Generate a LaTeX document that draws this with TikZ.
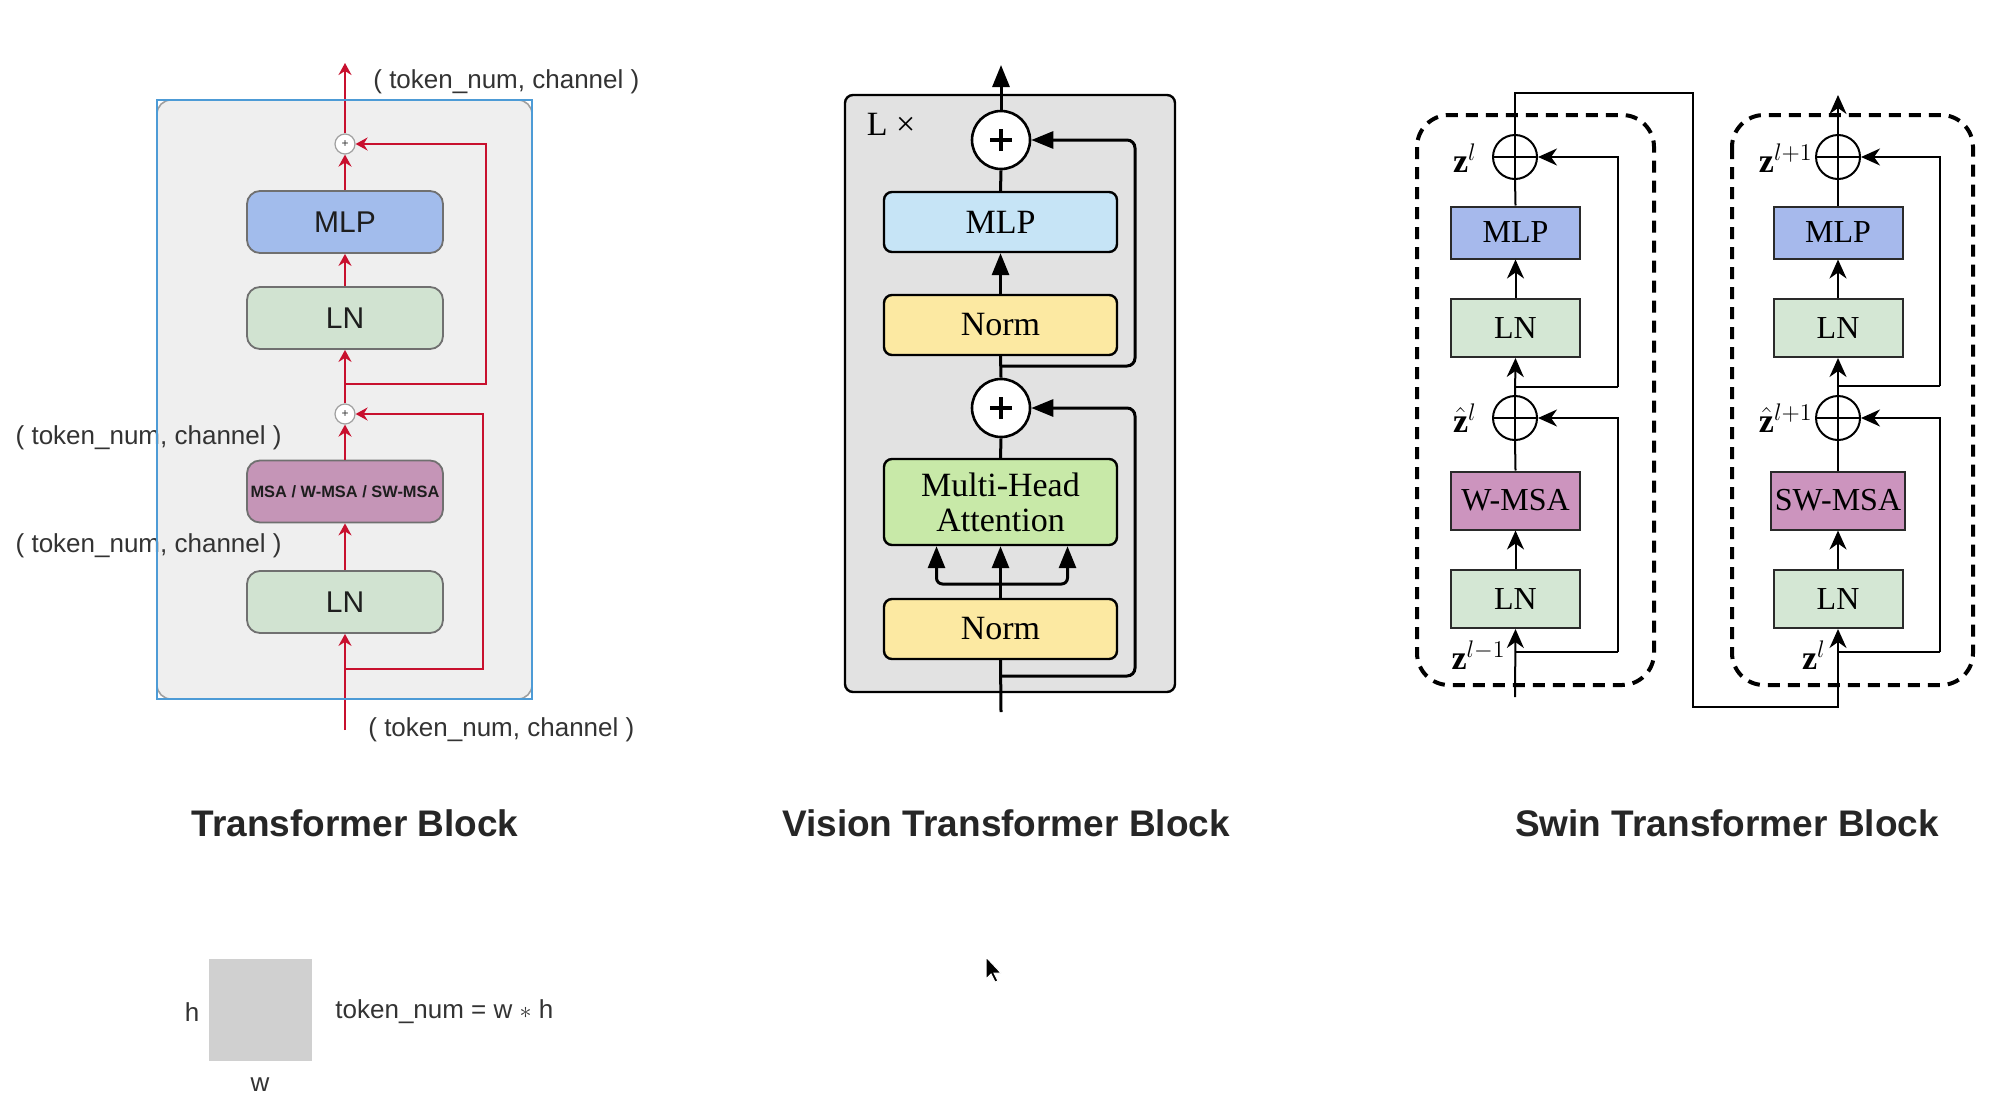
\documentclass[tikz,border=0pt]{standalone}
\usepackage{fontspec}
\setmainfont{Liberation Serif}
\newfontfamily\sansf{Liberation Sans}
\usetikzlibrary{arrows.meta}
\definecolor{tred}{HTML}{C8102E}
\definecolor{tgray}{HTML}{EFEFEF}
\definecolor{tgrayb}{HTML}{A0A0A0}
\definecolor{tblue}{HTML}{4D9BD6}
\definecolor{tboxb}{HTML}{707070}
\definecolor{tmlp}{HTML}{A2BCEC}
\definecolor{tln}{HTML}{D1E3D1}
\definecolor{tmsa}{HTML}{C595B7}
\definecolor{txtdark}{HTML}{333333}
\definecolor{boxtxt}{HTML}{1E1E1E}
\definecolor{titlegray}{HTML}{262626}
\definecolor{vgray}{HTML}{E2E2E2}
\definecolor{vmlpc}{HTML}{C6E4F6}
\definecolor{vnormc}{HTML}{FCE9A2}
\definecolor{vmhac}{HTML}{C8E9A8}
\definecolor{sborder}{HTML}{2A2A2A}
\definecolor{smlpc}{HTML}{A6B9EC}
\definecolor{slnc}{HTML}{D4E7D4}
\definecolor{smsac}{HTML}{CC94BE}
\definecolor{sqgray}{HTML}{D0D0D0}
\begin{document}
\begin{tikzpicture}[x=0.5pt,y=-0.5pt,
  tbox/.style={draw=tboxb, line width=0.9pt, rounded corners=6.5pt, minimum width=98pt, minimum height=31pt, inner sep=0pt, font=\sansf\fontsize{15}{17}\selectfont, text=boxtxt},
  redarrow/.style={draw=tred, line width=1pt, -{Stealth[length=6pt,width=6.5pt,inset=2pt]}},
  redline/.style={draw=tred, line width=1pt},
  tplus/.style={circle, draw=tgrayb, fill=white, minimum size=10pt, inner sep=0pt, line width=0.6pt, font=\sansf\fontsize{6}{6}\selectfont, text=txtdark},
  dimlabel/.style={font=\sansf\fontsize{13}{15}\selectfont, text=txtdark, inner sep=0pt},
  vbox/.style={draw=black, line width=1.2pt, rounded corners=4pt, minimum width=116.5pt, minimum height=30pt, inner sep=0pt, font=\fontsize{17}{17.5}\selectfont, align=center},
  varrow/.style={line width=1.5pt, -{Triangle[length=11pt,width=8.5pt]}},
  vline/.style={line width=1.5pt},
  vplus/.style={circle, draw=black, line width=1.3pt, fill=white, minimum size=29pt, inner sep=0pt},
  sbox/.style={draw=sborder, line width=1pt, minimum width=64.5pt, minimum height=29pt, inner sep=0pt, font=\fontsize{16}{18}\selectfont},
  sarrow/.style={line width=1pt, -{Stealth[length=9.5pt,width=8.5pt,inset=3pt]}},
  sline/.style={line width=1pt},
  splus/.style={circle, draw=black, line width=1pt, minimum size=22pt, inner sep=0pt},
  dashbox/.style={draw=black, line width=2pt, dash pattern=on 6pt off 4pt, rounded corners=16pt},
  zlabel/.style={anchor=east, inner sep=0pt, font=\fontsize{17}{19}\selectfont},
  blocktitle/.style={font=\sansf\bfseries\fontsize{18.5}{22}\selectfont, text=titlegray}
]
\fill[white] (0,0) rectangle (2000,1108);
\useasboundingbox (0,0) rectangle (2000,1108);

% ================= Transformer Block =================
\draw[fill=tgray, draw=tgrayb, line width=0.8pt, rounded corners=7pt] (157,100) rectangle (532,699);
\node[tbox, fill=tmlp] (tmlp) at (345,222) {MLP};
\node[tbox, fill=tln] (tln1) at (345,318) {LN};
\node[tbox, fill=tmsa, font=\sansf\bfseries\fontsize{8.2}{9}\selectfont] (tmsa) at (345,491.5) {MSA / W-MSA / SW-MSA};
\node[tbox, fill=tln] (tln0) at (345,602) {LN};
\node[tplus] (tp1) at (345,144) {+};
\node[tplus] (tp0) at (345,414) {+};
\coordinate (tin) at (345,730);
\coordinate (tout) at (345,63);
\coordinate (tb0) at (345,669);
\coordinate (tc0) at (483,669);
\coordinate (tb1) at (345,384);
\coordinate (tc1) at (486,384);
\draw[redarrow] (tin) -- (tln0.south);
\draw[redarrow] (tb0) -- (tc0) |- (tp0.east);
\draw[redarrow] (tln0.north) -- (tmsa.south);
\draw[redarrow] (tmsa.north) -- (tp0.south);
\draw[redarrow] (tp0.north) -- (tln1.south);
\draw[redarrow] (tb1) -- (tc1) |- (tp1.east);
\draw[redarrow] (tln1.north) -- (tmlp.south);
\draw[redarrow] (tmlp.north) -- (tp1.south);
\draw[redarrow] (tp1.north) -- (tout);
\node[dimlabel, anchor=west] (tlab1) at (373,82) {( token\_num, channel )};
\node[dimlabel, anchor=east] (tlab2) at (282,438) {( token\_num, channel )};
\node[dimlabel, anchor=east] (tlab3) at (282,546) {( token\_num, channel )};
\node[dimlabel, anchor=west] (tlab4) at (368,730) {( token\_num, channel )};
\draw[draw=tblue, line width=1.3pt] (157,100) rectangle (532,699);
\node[blocktitle] (t1) at (355,823) {Transformer Block};

% ================= Vision Transformer Block =================
\draw[fill=vgray, draw=black, line width=1.2pt, rounded corners=4pt] (845,95) rectangle (1175,692);
\node[font=\fontsize{17}{19}\selectfont, inner sep=0pt] (vlx) at (891,124) {L ×};
\node[vbox, fill=vmlpc] (vmlp) at (1000.5,222) {MLP};
\node[vbox, fill=vnormc] (vn1) at (1000.5,325) {Norm};
\node[vbox, fill=vmhac, minimum height=43pt] (vmha) at (1000.5,502) {Multi-Head\\Attention};
\node[vbox, fill=vnormc] (vn0) at (1000.5,629) {Norm};
\node[vplus] (vp1) at (1001,140) {};
\node[vplus] (vp0) at (1001,408) {};
\foreach \p in {vp1,vp0}{
  \draw[line width=1.8pt] ([xshift=-5.5pt]\p.center) -- ([xshift=5.5pt]\p.center);
  \draw[line width=1.8pt] ([yshift=-5.5pt]\p.center) -- ([yshift=5.5pt]\p.center);
}
\coordinate (vin) at (1001,712);
\coordinate (vout) at (1001,65);
\coordinate (vb0) at (1001,676);
\coordinate (vc0) at (1135,676);
\coordinate (vb1) at (1001,366);
\coordinate (vc1) at (1135,366);
\coordinate (vbr) at (1001,584);
\draw[vline] (vin) -- (vn0.south);
\draw[varrow, rounded corners=4pt] (vb0) -- (vc0) |- (vp0.east);
\draw[varrow] (vn0.north) -- (vmha.south);
\draw[varrow, rounded corners=3pt] (vbr) -| ([xshift=-32pt]vmha.south);
\draw[varrow, rounded corners=3pt] (vbr) -| ([xshift=33.5pt]vmha.south);
\draw[vline] (vmha.north) -- (vp0.south);
\draw[vline] (vp0.north) -- (vn1.south);
\draw[varrow, rounded corners=4pt] (vb1) -- (vc1) |- (vp1.east);
\draw[varrow] (vn1.north) -- (vmlp.south);
\draw[vline] (vmlp.north) -- (vp1.south);
\draw[varrow] (vp1.north) -- (vout);
\node[blocktitle] (t2) at (1006,823) {Vision Transformer Block};

% ================= Swin Transformer Block =================
\draw[dashbox] (1417,115) rectangle (1654,685);
\draw[dashbox] (1732,115) rectangle (1973,685);
% left block
\node[sbox, fill=smlpc, minimum height=26pt] (lmlp) at (1515.5,232.5) {MLP};
\node[sbox, fill=slnc] (lln1) at (1515.5,328) {LN};
\node[sbox, fill=smsac] (lmsa) at (1515.5,500.5) {W-MSA};
\node[sbox, fill=slnc] (lln0) at (1515.5,599) {LN};
\node[splus] (lp1) at (1515,157) {};
\node[splus] (lp0) at (1515,418) {};
% right block
\node[sbox, fill=smlpc, minimum height=26pt] (rmlp) at (1838,232.5) {MLP};
\node[sbox, fill=slnc] (rln1) at (1838,328) {LN};
\node[sbox, fill=smsac, minimum width=67pt] (rmsa) at (1838,500.5) {SW-MSA};
\node[sbox, fill=slnc] (rln0) at (1838,599) {LN};
\node[splus] (rp1) at (1838,157) {};
\node[splus] (rp0) at (1838,418) {};
\foreach \p in {lp1,lp0,rp1,rp0}{
  \draw[sline] (\p.west) -- (\p.east);
  \draw[sline] (\p.north) -- (\p.south);
}
\coordinate (lin) at (1515,697);
\coordinate (lb0) at (1515,652);
\coordinate (lc0) at (1618,652);
\coordinate (lb1) at (1515,387);
\coordinate (lc1) at (1618,387);
\coordinate (sj1) at (1515,93);
\coordinate (sj2) at (1693,93);
\coordinate (sj3) at (1693,707);
\coordinate (sj4) at (1838,707);
\coordinate (rb0) at (1838,652);
\coordinate (rc0) at (1940,652);
\coordinate (rb1) at (1838,386);
\coordinate (rc1) at (1940,386);
\coordinate (rout) at (1838,95);
\draw[sarrow] (lin) -- (lln0.south);
\draw[sline] (lb0) -- (lc0);
\draw[sarrow] (lc0) |- (lp0.east);
\draw[sarrow] (lln0.north) -- (lmsa.south);
\draw[sline] (lmsa.north) -- (lp0.south);
\draw[sarrow] (lp0.north) -- (lln1.south);
\draw[sline] (lb1) -- (lc1);
\draw[sarrow] (lc1) |- (lp1.east);
\draw[sarrow] (lln1.north) -- (lmlp.south);
\draw[sline] (lmlp.north) -- (lp1.south);
\draw[sarrow] (lp1.north) -- (sj1) -- (sj2) -- (sj3) -- (sj4) -- (rln0.south);
\draw[sline] (rb0) -- (rc0);
\draw[sarrow] (rc0) |- (rp0.east);
\draw[sarrow] (rln0.north) -- (rmsa.south);
\draw[sline] (rmsa.north) -- (rp0.south);
\draw[sarrow] (rp0.north) -- (rln1.south);
\draw[sline] (rb1) -- (rc1);
\draw[sarrow] (rc1) |- (rp1.east);
\draw[sarrow] (rln1.north) -- (rmlp.south);
\draw[sline] (rmlp.north) -- (rp1.south);
\draw[sarrow] (rp1.north) -- (rout);
\node[zlabel] (zl1) at (1477,158) {$\mathbf{z}^{l}$};
\node[zlabel] (zl2) at (1477,418) {$\hat{\mathbf{z}}^{l}$};
\node[zlabel] (zl3) at (1506,655) {$\mathbf{z}^{l-1}$};
\node[zlabel] (zr1) at (1813,158) {$\mathbf{z}^{l+1}$};
\node[zlabel] (zr2) at (1813,418) {$\hat{\mathbf{z}}^{l+1}$};
\node[zlabel] (zr3) at (1826,655) {$\mathbf{z}^{l}$};
\node[blocktitle] (t3) at (1727,823) {Swin Transformer Block};

% ================= token illustration =================
\fill[sqgray] (209,959) rectangle (312,1061);
\node[dimlabel] (hl) at (192,1012) {h};
\node[dimlabel] (wl) at (260,1085) {w};
\node[dimlabel, anchor=west] (tn) at (335,1012) {token\_num = w $\ast$ h};

% mouse pointer
\draw[fill=black, draw=white, line width=0.5pt] (986,957) -- (986,979) -- (991,974) -- (995,982) -- (998,981) -- (994,973) -- (1001,973) -- cycle;
\end{tikzpicture}
\end{document}
